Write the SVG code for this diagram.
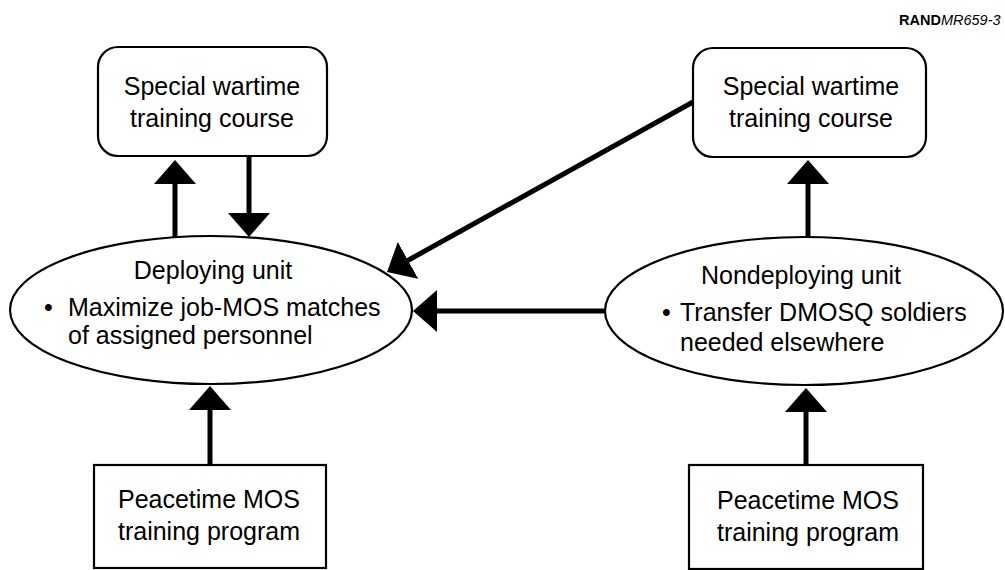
<svg xmlns="http://www.w3.org/2000/svg" width="1005" height="570" viewBox="0 0 1005 570">
<style>
.box{fill:#fff;stroke:#000;stroke-width:2.2}
.t{font-family:"Liberation Sans",Arial,sans-serif;font-size:25px;fill:#000}
.c{text-anchor:middle}
.con{stroke:#000;stroke-width:5;fill:none;marker-end:url(#ah)}
</style>
<defs>
<marker id="ah" viewBox="0 0 24 42" refX="4" refY="21" markerWidth="24" markerHeight="42" markerUnits="userSpaceOnUse" orient="auto">
<path d="M0,0 L24,21 L0,42 z" fill="#000"/>
</marker>
</defs>
<rect width="1005" height="570" fill="#fff"/>
<text x="899" y="25" font-family="'Liberation Sans',Arial,sans-serif" font-size="14.5"><tspan font-weight="bold">RAND</tspan><tspan font-style="italic">MR659-3</tspan></text>

<g id="connectors">
<line class="con" x1="175" y1="239" x2="175" y2="180"/>
<line class="con" x1="249" y1="156" x2="249" y2="217"/>
<line class="con" x1="808" y1="238" x2="808" y2="180"/>
<line class="con" x1="693" y1="102" x2="404.5" y2="262.3"/>
<line class="con" x1="606" y1="311" x2="433" y2="311"/>
<line class="con" x1="210" y1="466" x2="210" y2="406"/>
<line class="con" x1="806" y1="466" x2="806" y2="408"/>
</g>

<g id="swtc-left">
<rect class="box" x="98" y="47" width="229" height="109" rx="20"/>
<text class="t c" x="212" y="95">Special wartime</text>
<text class="t c" x="212" y="127">training course</text>
</g>

<g id="swtc-right">
<rect class="box" x="693" y="48" width="233" height="109" rx="20"/>
<text class="t c" x="811" y="95">Special wartime</text>
<text class="t c" x="811" y="127">training course</text>
</g>

<g id="deploying-unit">
<ellipse class="box" cx="211" cy="310" rx="201" ry="74"/>
<text class="t c" x="213" y="279">Deploying unit</text>
<text class="t" x="44" y="316">•</text>
<text class="t" x="68" y="316">Maximize job-MOS matches</text>
<text class="t" x="68" y="344">of assigned personnel</text>
</g>

<g id="nondeploying-unit">
<ellipse class="box" cx="804" cy="311" rx="199" ry="74"/>
<text class="t c" x="801" y="284">Nondeploying unit</text>
<text class="t" x="662" y="321">•</text>
<text class="t" x="680" y="321">Transfer DMOSQ soldiers</text>
<text class="t" x="680" y="351">needed elsewhere</text>
</g>

<g id="peacetime-left">
<rect class="box" x="94" y="465" width="232" height="103"/>
<text class="t c" x="209" y="508">Peacetime MOS</text>
<text class="t c" x="209" y="540">training program</text>
</g>

<g id="peacetime-right">
<rect class="box" x="689" y="465" width="234" height="104"/>
<text class="t c" x="808" y="509">Peacetime MOS</text>
<text class="t c" x="808" y="541">training program</text>
</g>
</svg>
